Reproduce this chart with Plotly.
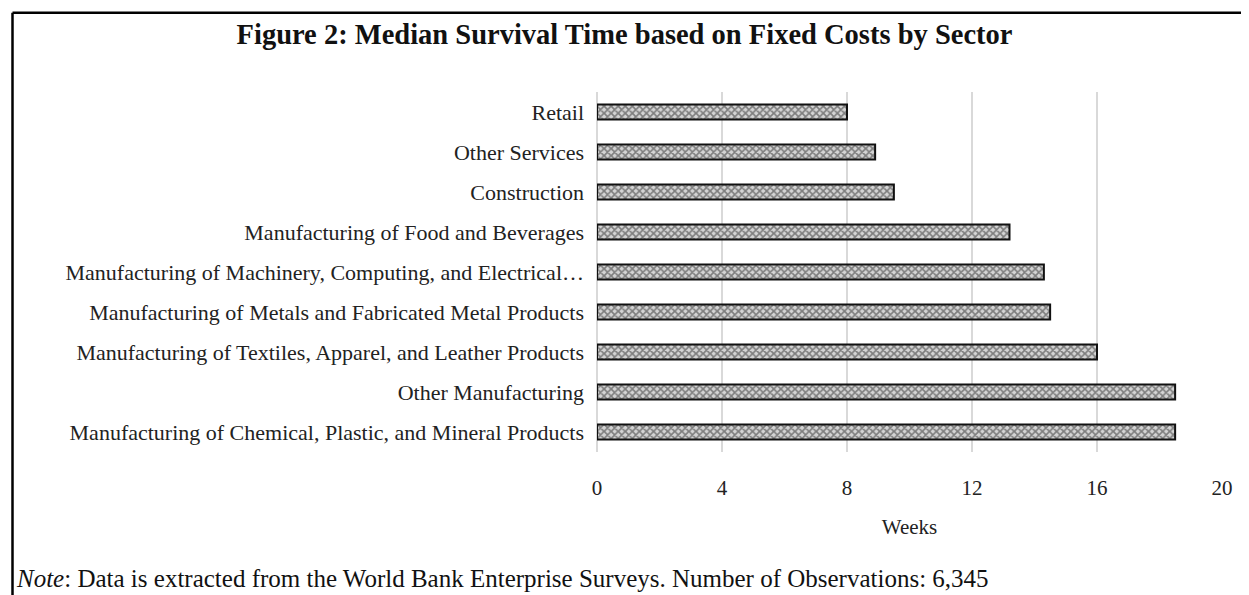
import plotly.graph_objects as go

categories = [
    "Retail",
    "Other Services",
    "Construction",
    "Manufacturing of Food and Beverages",
    "Manufacturing of Machinery, Computing, and Electrical\u2026",
    "Manufacturing of Metals and Fabricated Metal Products",
    "Manufacturing of Textiles, Apparel, and Leather Products",
    "Other Manufacturing",
    "Manufacturing of Chemical, Plastic, and Mineral Products",
]
weeks = [8.0, 8.9, 9.5, 13.2, 14.3, 14.5, 16.0, 18.5, 18.5]
x_ticks = [0, 4, 8, 12, 16, 20]

OFF = 8  # page body margin
W, H = 1249 - OFF, 595 - OFF
ML, MR, MT, MB = 597 - OFF, 27, 92 - OFF, 143
PW, PH = W - ML - MR, H - MT - MB

def px_to_paper_x(px):
    return (px - OFF - ML) / PW

def px_to_paper_y(py):
    return (H - MB - (py - OFF)) / PH

FONT = "Liberation Serif"

fig = go.Figure()
fig.add_trace(go.Bar(
    y=categories,
    x=weeks,
    orientation="h",
    width=0.38,
    marker=dict(
        color="#c0c0c0",
        line=dict(color="#111111", width=2),
        pattern=dict(shape="x", fgcolor="#262626", bgcolor="#d4d4d4", size=5, solidity=0.55),
    ),
    hoverinfo="x+y",
))

fig.update_layout(
    width=W, height=H,
    margin=dict(l=ML, r=MR, t=MT, b=MB),
    paper_bgcolor="white", plot_bgcolor="white",
    showlegend=False,
    font=dict(family=FONT, size=20, color="#222222"),
    title=dict(
        text="<b>Figure 2: Median Survival Time based on Fixed Costs by Sector</b>",
        x=(624.5 - OFF) / W, xref="container", xanchor="center",
        y=1 - (34 - OFF) / H, yref="container", yanchor="middle",
        font=dict(family=FONT, size=28.5, color="#111111"),
    ),
    xaxis=dict(
        range=[0, 20], tickvals=x_ticks, ticktext=[str(v) for v in x_ticks],
        showgrid=True, gridcolor="#d9d9d9", gridwidth=1.5,
        zeroline=True, zerolinecolor="#d9d9d9", zerolinewidth=1.5,
        showline=False, ticks="", tickfont=dict(size=21, color="#222222"),
        ticklabelstandoff=21,
        title=dict(text="Weeks", font=dict(size=21, color="#222222"), standoff=20),
        fixedrange=True,
    ),
    yaxis=dict(
        categoryorder="array", categoryarray=categories, autorange="reversed",
        showgrid=False, showline=False, ticks="", zeroline=False,
        tickfont=dict(size=22, color="#222222"),
        ticklabelstandoff=12,
        fixedrange=True,
    ),
    shapes=[
        dict(type="line", xref="paper", yref="paper",
             x0=px_to_paper_x(12.5), x1=px_to_paper_x(1249 + 20),
             y0=px_to_paper_y(12.7), y1=px_to_paper_y(12.7),
             line=dict(color="black", width=2.5)),
        dict(type="line", xref="paper", yref="paper",
             x0=px_to_paper_x(12.5), x1=px_to_paper_x(12.5),
             y0=px_to_paper_y(12.7), y1=px_to_paper_y(595 + 20),
             line=dict(color="black", width=2.5)),
    ],
    annotations=[
        dict(text="<i>Note</i>: Data is extracted from the World Bank Enterprise Surveys. Number of Observations: 6,345",
             xref="paper", yref="paper",
             x=px_to_paper_x(14), y=px_to_paper_y(578),
             xanchor="left", yanchor="middle", showarrow=False,
             font=dict(family=FONT, size=25, color="#111111")),
    ],
)

fig.write_html("out.html")
